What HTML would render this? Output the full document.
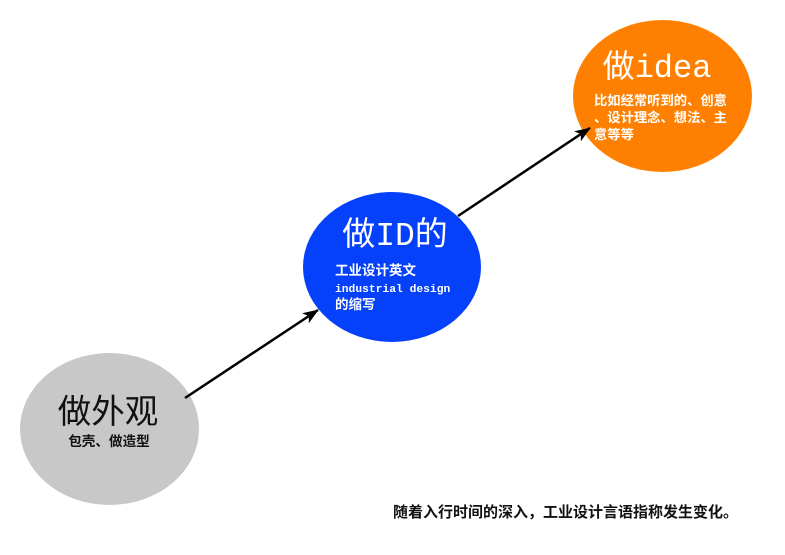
<!DOCTYPE html>
<html><head><meta charset="utf-8"><style>
html,body{margin:0;padding:0;background:#fff;width:785px;height:555px;overflow:hidden}
svg{display:block}
.cjk{font-family:"Liberation Sans","Noto Sans CJK SC",sans-serif}
.ser{font-family:"Liberation Mono","Noto Sans CJK SC",monospace}
.mono{font-family:"Liberation Mono","Noto Sans CJK SC",monospace}
</style></head><body>
<svg width="785" height="555" viewBox="0 0 785 555" xmlns="http://www.w3.org/2000/svg">
<defs>
<marker id="a" markerWidth="16" markerHeight="12" refX="15" refY="6" orient="auto" markerUnits="userSpaceOnUse"><path d="M0,0 L16,6 L0,12 L4,6 Z" fill="#000"/></marker></defs>
<ellipse cx="109.5" cy="429" rx="89.5" ry="76" fill="#c8c8c8"/>
<ellipse cx="392" cy="267" rx="89" ry="75" fill="#0540fb"/>
<ellipse cx="662.5" cy="96" rx="89.5" ry="76" fill="#ff8000"/>
<line x1="185" y1="398" x2="318" y2="310" stroke="#000" stroke-width="2.5" marker-end="url(#a)"/>
<line x1="458" y1="216" x2="590" y2="128" stroke="#000" stroke-width="2.5" marker-end="url(#a)"/>
<text x="108" y="423" font-size="33.5" text-anchor="middle" class="cjk" fill="#111">做外观</text>
<text x="109" y="446" font-size="13.6" font-weight="bold" text-anchor="middle" class="cjk" fill="#111">包壳、做造型</text>
<text x="395" y="245" font-size="33" text-anchor="middle" class="ser" fill="#fff">做ID的</text>
<text x="335" y="275" font-size="13.5" font-weight="bold" class="cjk" fill="#fff">工业设计英文</text>
<text x="335" y="292" font-size="11.3" font-weight="bold" class="mono" fill="#fff">industrial design</text>
<text x="335" y="309" font-size="13.5" font-weight="bold" class="cjk" fill="#fff">的缩写</text>
<text x="657" y="77" font-size="32" text-anchor="middle" class="ser" fill="#fff">做idea</text>
<text x="594" y="105" font-size="13.3" font-weight="bold" class="cjk" fill="#fff">比如经常听到的、创意</text>
<text x="594" y="122" font-size="13.3" font-weight="bold" class="cjk" fill="#fff">、设计理念、想法、主</text>
<text x="594" y="139" font-size="13.3" font-weight="bold" class="cjk" fill="#fff">意等等</text>
<text x="393" y="517" font-size="15" font-weight="bold" class="cjk" fill="#111">随着入行时间的深入，工业设计言语指称发生变化。</text>
</svg>
</body></html>
